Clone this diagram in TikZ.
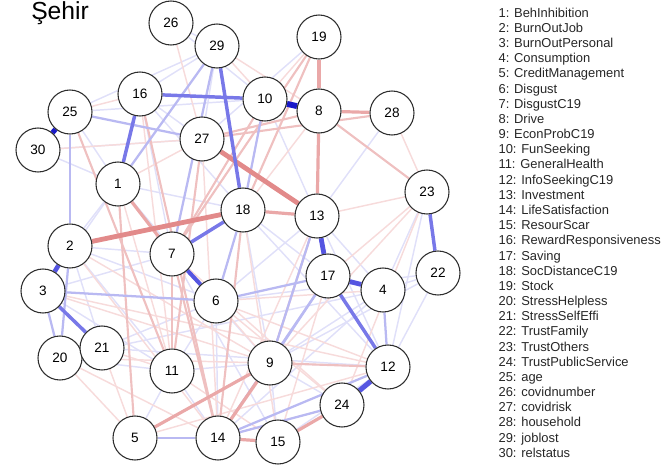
\documentclass[tikz,border=0pt]{standalone}
\usepackage{fontspec}
\setmainfont{Liberation Sans}
\usetikzlibrary{backgrounds}
\definecolor{bdark}{RGB}{25,25,200}
\definecolor{bmid}{RGB}{120,120,232}
\definecolor{bstrong}{RGB}{85,85,225}
\definecolor{blite}{RGB}{185,185,242}
\definecolor{bfaint}{RGB}{224,224,249}
\definecolor{rstrong}{RGB}{226,138,138}
\definecolor{rmid}{RGB}{234,168,168}
\definecolor{rlite}{RGB}{239,192,192}
\definecolor{rfaint}{RGB}{247,219,219}
\definecolor{ringgray}{RGB}{45,45,45}
\tikzset{
  vnode/.style={circle,draw=ringgray,line width=0.8pt,fill=white,minimum size=33pt,inner sep=0pt,font=\fontsize{10.2}{12}\selectfont},
  legtext/.style={anchor=base west,inner sep=0pt,font=\fontsize{9.7}{11}\selectfont,text=black!85},
  eBS/.style={draw=bdark,line width=3.8pt},
  eBX/.style={draw=bstrong,line width=3.4pt},
  eBM/.style={draw=bmid,line width=2.6pt},
  eBL/.style={draw=blite,line width=1.7pt},
  eBF/.style={draw=bfaint,line width=1.1pt},
  eRS/.style={draw=rstrong,line width=3.6pt},
  eRM/.style={draw=rmid,line width=2.4pt},
  eRL/.style={draw=rlite,line width=1.6pt},
  eRF/.style={draw=rfaint,line width=1.1pt}
}
\begin{document}
\begin{tikzpicture}[x=0.75pt,y=-0.75pt]
\useasboundingbox (0,0) rectangle (665,467);
\node[anchor=base west,inner sep=0pt,font=\fontsize{18.5}{20}\selectfont] (title) at (31,20) {Şehir};
% nodes
\foreach \n/\x/\y in {1/118/184,2/70/246,3/43/291,4/383/290,5/135/438,6/216/301,7/172/254,8/319/111,9/270/363,10/265/99,11/172/371,12/388/367,13/317/216,14/218/438,15/278/442,16/140/94,17/328/276,18/243/210,19/319/37,20/60/358,21/102/348,22/438/273,23/427/192,24/342/405,25/70/112,26/171/23,27/202/139,28/392/113,29/217/46,30/38/150}
  \node[vnode] (n\n) at (\x,\y) {\n};
% edges
\begin{scope}[on background layer]
\foreach \a/\b in {22/12,4/22,14/4,2/21,11/9,11/14,11/6,1/18,16/18,29/16,29/25,26/29,30/27,25/10,1/2,1/3,2/6,6/14,7/15,9/12,21/12,20/4,18/12,13/6,6/22,23/4,23/12,22/9,19/27,26/10,25/1,30/1,2/7,3/11,20/11,21/6,5/11,15/12,9/4,15/9,24/9,13/12,16/27,29/27,10/13,28/13,1/6,2/11,3/7,7/9,18/9,18/17,13/4,16/7}
  \draw[eBF] (n\a) -- (n\b);
\foreach \a/\b in {12/6,13/23,10/29,20/5,21/5,21/11,1/27,30/27,16/25,19/10,4/6,23/17,23/9,12/5,24/14,3/12,20/14,28/23,8/18,19/13,29/8,2/9,3/9,6/24,7/24,17/15,11/15,2/14,16/11,26/27,1/11,18/15,13/14,27/14,23/24,6/9,20/9}
  \draw[eRF] (n\a) -- (n\b);
\foreach \a/\b in {25/11,16/14,27/11,18/14,13/9,7/14,7/11,12/9,27/8,8/23,19/18,1/5,19/7,27/28,10/7}
  \draw[eRL] (n\a) -- (n\b);
\foreach \a/\b in {25/27,10/18,6/17,3/6,1/29,4/12,9/13,14/17,14/12,5/14,3/20,2/20,29/7,1/16,25/2,18/6,9/17,21/20,14/24}
  \draw[eBL] (n\a) -- (n\b);
\foreach \a/\b in {1/7,18/13,8/19,8/13,8/28,9/5,9/14,24/15,14/15}
  \draw[eRM] (n\a) -- (n\b);
\draw[eRS] (n27) -- (n13);
\draw[eRS] (n2) -- (n18);
\foreach \a/\b in {17/12,23/22,16/10,16/1,29/18,3/21,18/7}
  \draw[eBM] (n\a) -- (n\b);
\draw[eBX,line width=3pt] (n7) -- (n6);
\draw[eBX] (n2) -- (n3);
\draw[eBX,line width=3.6pt] (n13) -- (n17);
\draw[eBX,line width=3.6pt] (n17) -- (n4);
\draw[eBX,line width=3.8pt] (n12) -- (n24);
\draw[eBS] (n25) -- (n30);
\draw[eBS,line width=4.4pt] (n10) -- (n8);
\end{scope}
% legend
\foreach \i/\t in {1/BehInhibition,2/BurnOutJob,3/BurnOutPersonal,4/Consumption,5/CreditManagement,6/Disgust,7/DisgustC19,8/Drive,9/EconProbC19,10/FunSeeking,11/GeneralHealth,12/InfoSeekingC19,13/Investment,14/LifeSatisfaction,15/ResourScar,16/RewardResponsiveness,17/Saving,18/SocDistanceC19,19/Stock,20/StressHelpless,21/StressSelfEffi,22/TrustFamily,23/TrustOthers,24/TrustPublicService,25/age,26/covidnumber,27/covidrisk,28/household,29/joblost,30/relstatus}
  \node[legtext] (leg\i) at (498.3,{17.3+(\i-1)*15.17}) {\i: \t};
\end{tikzpicture}
\end{document}
